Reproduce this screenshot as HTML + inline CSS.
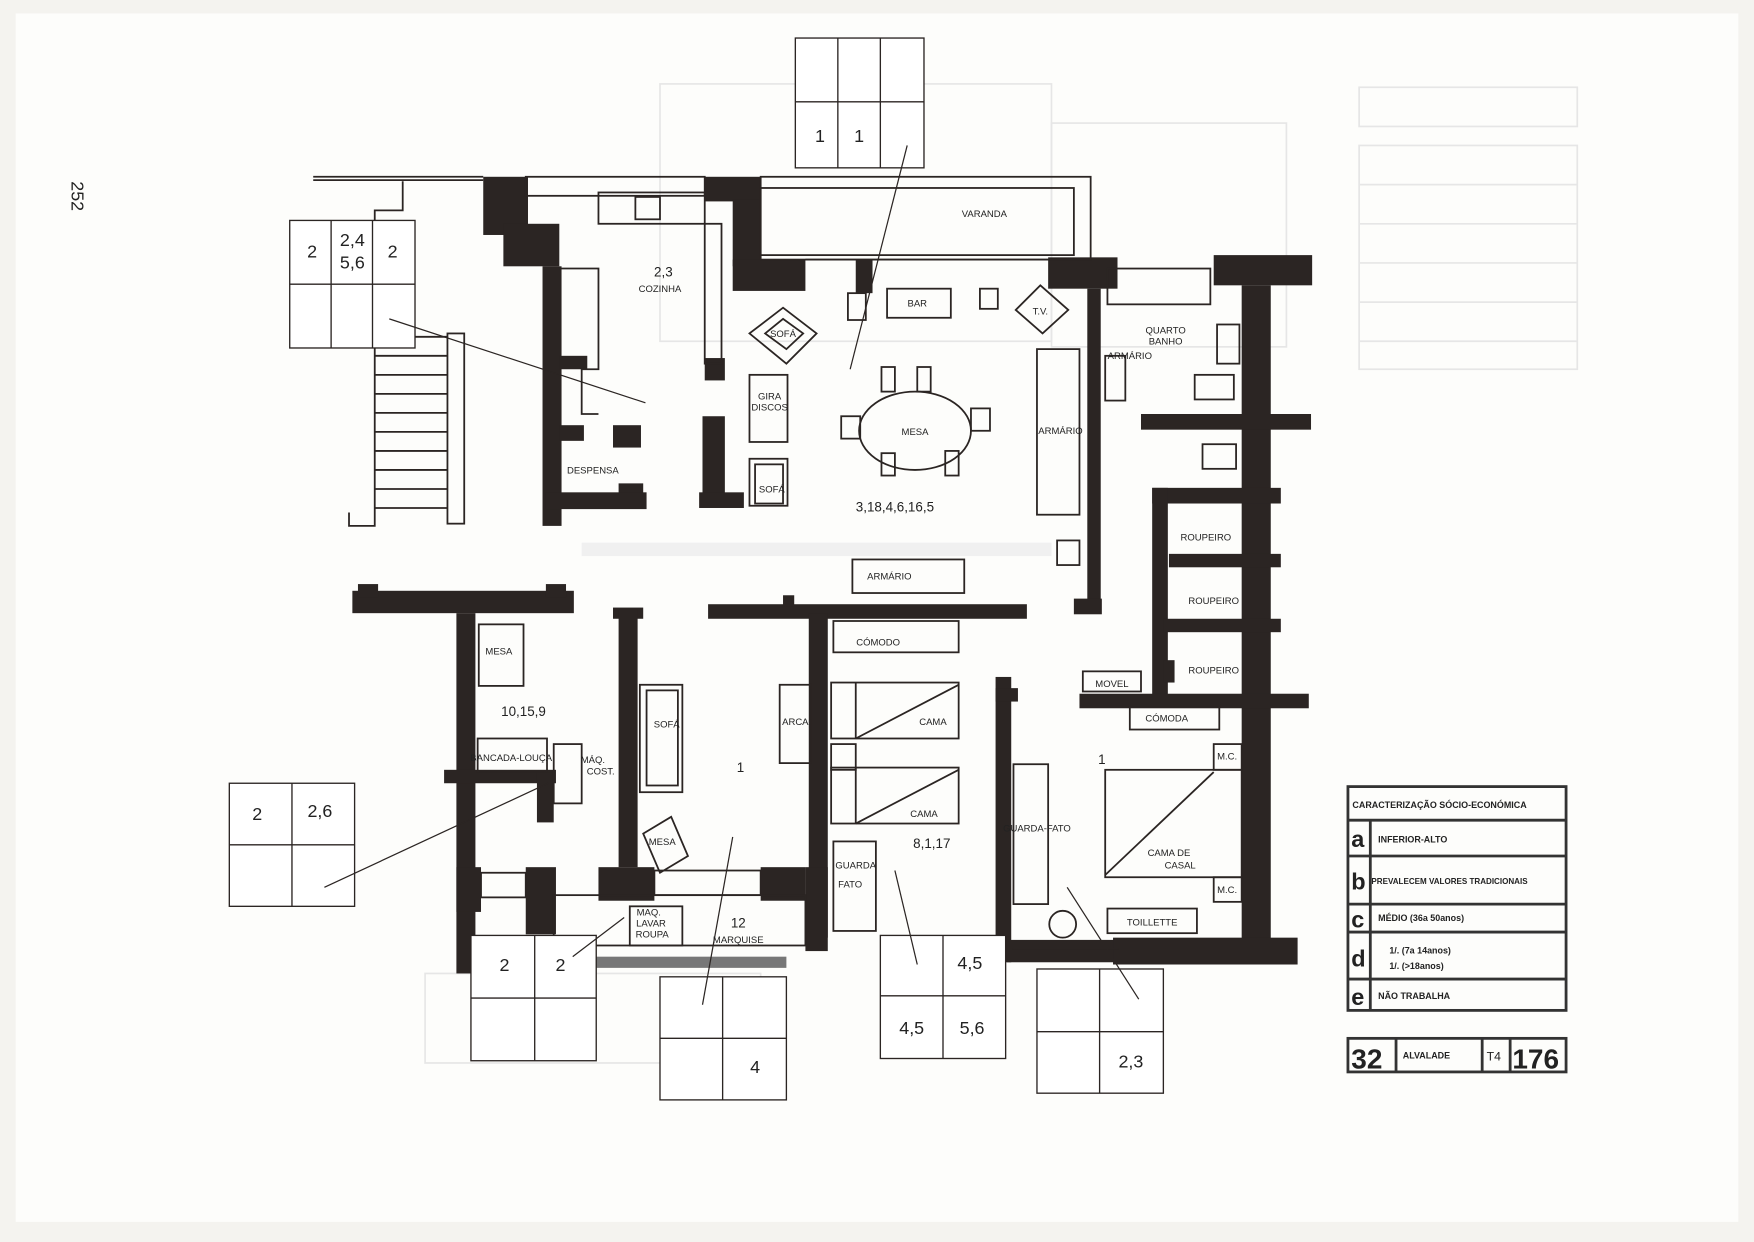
<!DOCTYPE html>
<html><head><meta charset="utf-8"><style>
html,body{margin:0;padding:0;background:#fff}
svg{display:block}
text{font-family:"Liberation Sans",sans-serif;fill:#222}
.s{font-size:8.5px}
.n{font-size:16px}
</style></head><body>
<svg width="1754" height="1242" viewBox="0 0 1568 1110" preserveAspectRatio="none" xmlns="http://www.w3.org/2000/svg">
<rect x="0" y="0" width="1568" height="1110" fill="#f4f3ef"/>
<rect x="14" y="12" width="1540" height="1080" fill="#fdfdfb"/>
<!-- ghost background -->
<g fill="none" stroke="#e6e6e6" stroke-width="1.5">
<rect x="590" y="75" width="350" height="230"/><rect x="940" y="110" width="210" height="200"/>
<rect x="1215" y="78" width="195" height="35"/><rect x="1215" y="130" width="195" height="200"/>
<line x1="1215" y1="165" x2="1410" y2="165"/><line x1="1215" y1="200" x2="1410" y2="200"/><line x1="1215" y1="235" x2="1410" y2="235"/><line x1="1215" y1="270" x2="1410" y2="270"/><line x1="1215" y1="305" x2="1410" y2="305"/>
<rect x="380" y="870" width="300" height="80"/>
</g>
<g fill="#f0f0f0"><rect x="520" y="485" width="420" height="12"/></g>
<text x="64" y="162" transform="rotate(90 64 162)" font-size="16" fill="#555">252</text>

<g fill="#2b2523">
<rect x="432" y="158" width="40" height="52"/><rect x="450" y="200" width="50" height="38"/>
<rect x="485" y="238" width="17" height="232"/>
<rect x="500" y="318" width="25" height="12"/><rect x="500" y="380" width="22" height="14"/><rect x="548" y="380" width="25" height="20"/><rect x="553" y="432" width="22" height="14"/>
<rect x="488" y="440" width="90" height="15"/>
<rect x="630" y="158" width="50" height="22"/><rect x="655" y="178" width="25" height="60"/><rect x="655" y="232" width="65" height="28"/><rect x="765" y="232" width="15" height="30"/>
<rect x="630" y="320" width="18" height="20"/>
<rect x="628" y="372" width="20" height="80"/><rect x="625" y="440" width="40" height="14"/>
<rect x="937" y="230" width="62" height="28"/><rect x="1085" y="228" width="88" height="27"/>
<rect x="1110" y="255" width="26" height="597"/>
<rect x="972" y="258" width="12" height="290"/><rect x="960" y="535" width="25" height="14"/>
<rect x="1020" y="370" width="152" height="14"/><rect x="1030" y="436" width="115" height="14"/><rect x="1030" y="436" width="14" height="185"/>
<rect x="1045" y="495" width="100" height="12"/><rect x="1040" y="553" width="105" height="12"/><rect x="1040" y="590" width="10" height="20"/>
<rect x="965" y="620" width="205" height="13"/>
<rect x="315" y="528" width="198" height="20"/><rect x="320" y="522" width="18" height="12"/><rect x="488" y="522" width="18" height="12"/>
<rect x="548" y="543" width="27" height="10"/><rect x="633" y="540" width="285" height="13"/><rect x="700" y="532" width="10" height="10"/>
<rect x="408" y="548" width="17" height="322"/><rect x="397" y="688" width="100" height="12"/><rect x="480" y="690" width="15" height="45"/>
<rect x="553" y="545" width="17" height="230"/>
<rect x="723" y="548" width="17" height="290"/>
<rect x="890" y="605" width="14" height="255"/><rect x="890" y="615" width="20" height="12"/>
<rect x="408" y="775" width="22" height="40"/><rect x="470" y="775" width="27" height="60"/>
<rect x="535" y="775" width="50" height="30"/><rect x="680" y="775" width="40" height="30"/>
<rect x="720" y="775" width="20" height="75"/>
<rect x="900" y="840" width="100" height="20"/><rect x="995" y="838" width="165" height="24"/>
</g>
<g fill="none" stroke="#2b2523" stroke-width="1.6">
<polyline points="280,158 432,158"/><polyline points="280,161 432,161"/>
<polyline points="360,162 360,188 335,188 335,470 312,470 312,458"/>
<rect x="470" y="158" width="160" height="17"/>
<rect x="535" y="172" width="95" height="28"/><rect x="568" y="176" width="22" height="20"/>
<rect x="630" y="200" width="15" height="125"/>
<rect x="680" y="158" width="295" height="74"/><rect x="680" y="168" width="280" height="60"/>
<line x1="720" y1="232" x2="937" y2="232"/>
<rect x="400" y="298" width="15" height="170"/>
<line x1="335" y1="301" x2="400" y2="301"/><line x1="335" y1="318" x2="400" y2="318"/><line x1="335" y1="335" x2="400" y2="335"/><line x1="335" y1="352" x2="400" y2="352"/><line x1="335" y1="369" x2="400" y2="369"/><line x1="335" y1="386" x2="400" y2="386"/><line x1="335" y1="403" x2="400" y2="403"/><line x1="335" y1="420" x2="400" y2="420"/><line x1="335" y1="437" x2="400" y2="437"/><line x1="335" y1="454" x2="400" y2="454"/>
<polyline points="500,240 535,240 535,330 520,330 520,370 535,370"/>
<rect x="793" y="258" width="57" height="26"/><rect x="758" y="262" width="16" height="24"/><rect x="876" y="258" width="16" height="18"/>
<polygon points="930,255 955,277 932,298 908,277"/>
<polygon points="700,275 730,298 703,325 670,298"/><polygon points="700,285 718,298 703,312 684,298"/>
<rect x="670" y="335" width="34" height="60"/><rect x="670" y="410" width="34" height="42"/><rect x="675" y="415" width="25" height="35"/>
<ellipse cx="818" cy="385" rx="50" ry="35"/>
<rect x="788" y="328" width="12" height="22"/><rect x="820" y="328" width="12" height="22"/><rect x="788" y="405" width="12" height="20"/><rect x="845" y="403" width="12" height="22"/><rect x="752" y="372" width="17" height="20"/><rect x="868" y="365" width="17" height="20"/>
<rect x="927" y="312" width="38" height="148"/><rect x="945" y="483" width="20" height="22"/>
<rect x="762" y="500" width="100" height="30"/>
<rect x="990" y="240" width="92" height="32"/><rect x="988" y="318" width="18" height="40"/><rect x="1088" y="290" width="20" height="35"/><rect x="1068" y="335" width="35" height="22"/><rect x="1075" y="397" width="30" height="22"/>
<rect x="428" y="558" width="40" height="55"/><rect x="427" y="660" width="62" height="30"/><rect x="495" y="665" width="25" height="53"/>
<rect x="572" y="612" width="38" height="96"/><rect x="578" y="617" width="28" height="85"/>
<rect x="697" y="612" width="28" height="70"/>
<polygon points="575,745 600,730 615,765 590,780"/>
<rect x="745" y="555" width="112" height="28"/>
<rect x="743" y="610" width="114" height="50"/><line x1="765" y1="610" x2="765" y2="660"/><line x1="765" y1="660" x2="857" y2="612"/>
<rect x="743" y="665" width="22" height="23"/>
<rect x="743" y="686" width="114" height="50"/><line x1="765" y1="686" x2="765" y2="736"/><line x1="765" y1="736" x2="857" y2="688"/>
<rect x="745" y="752" width="38" height="80"/>
<rect x="968" y="600" width="52" height="18"/><rect x="1010" y="632" width="80" height="20"/>
<rect x="1085" y="665" width="25" height="23"/><rect x="1085" y="784" width="25" height="22"/>
<rect x="988" y="688" width="122" height="96"/><line x1="988" y1="782" x2="1085" y2="690"/>
<rect x="906" y="683" width="31" height="125"/>
<rect x="990" y="812" width="80" height="22"/><circle cx="950" cy="826" r="12"/>
<rect x="563" y="810" width="47" height="35"/>
<rect x="430" y="780" width="40" height="22"/><rect x="495" y="800" width="225" height="45"/><rect x="585" y="778" width="95" height="22"/>
<line x1="905" y1="848" x2="1000" y2="848"/>
</g>
<rect x="533" y="855" width="170" height="10" fill="#777"/>
<g stroke="#2b2523" stroke-width="1.2" fill="#fff">
<rect x="711" y="34" width="115" height="116"/><line x1="749" y1="34" x2="749" y2="150"/><line x1="787" y1="34" x2="787" y2="150"/><line x1="711" y1="91" x2="826" y2="91"/>
<rect x="259" y="197" width="112" height="114"/><line x1="296" y1="197" x2="296" y2="311"/><line x1="333" y1="197" x2="333" y2="311"/><line x1="259" y1="254" x2="371" y2="254"/>
<rect x="205" y="700" width="112" height="110"/><line x1="261" y1="700" x2="261" y2="810"/><line x1="205" y1="755" x2="317" y2="755"/>
<rect x="421" y="836" width="112" height="112"/><line x1="478" y1="836" x2="478" y2="948"/><line x1="421" y1="892" x2="533" y2="892"/>
<rect x="590" y="873" width="113" height="110"/><line x1="646" y1="873" x2="646" y2="983"/><line x1="590" y1="928" x2="703" y2="928"/>
<rect x="787" y="836" width="112" height="110"/><line x1="843" y1="836" x2="843" y2="946"/><line x1="787" y1="890" x2="899" y2="890"/>
<rect x="927" y="866" width="113" height="111"/><line x1="983" y1="866" x2="983" y2="977"/><line x1="927" y1="922" x2="1040" y2="922"/>
</g>
<g stroke="#2b2523" stroke-width="1.1">
<line x1="811" y1="130" x2="760" y2="330"/><line x1="348" y1="285" x2="577" y2="360"/><line x1="290" y1="793" x2="490" y2="700"/><line x1="512" y1="855" x2="558" y2="820"/><line x1="628" y1="898" x2="655" y2="748"/><line x1="820" y1="862" x2="800" y2="778"/><line x1="1018" y1="893" x2="954" y2="793"/>
</g>
<g class="n" text-anchor="middle">
<text x="733" y="127">1</text><text x="768" y="127">1</text>
<text x="279" y="230">2</text><text x="315" y="220">2,4</text><text x="315" y="240">5,6</text><text x="351" y="230">2</text>
<text x="230" y="733">2</text><text x="286" y="730">2,6</text>
<text x="451" y="868">2</text><text x="501" y="868">2</text>
<text x="675" y="959">4</text>
<text x="867" y="866">4,5</text><text x="815" y="924">4,5</text><text x="869" y="924">5,6</text>
<text x="1011" y="954">2,3</text>
</g>
<g font-size="12" text-anchor="middle">
<text x="593" y="247">2,3</text><text x="800" y="457">3,18,4,6,16,5</text><text x="468" y="640">10,15,9</text><text x="662" y="690">1</text><text x="833" y="758">8,1,17</text><text x="985" y="683">1</text><text x="660" y="829">12</text>
</g>
<g class="s" text-anchor="middle">
<text x="590" y="261">COZINHA</text><text x="880" y="194">VARANDA</text><text x="530" y="423">DESPENSA</text><text x="820" y="274">BAR</text><text x="930" y="281">T.V.</text><text x="700" y="301">SOFÁ</text>
<text x="688" y="357">GIRA</text><text x="688" y="367">DISCOS</text><text x="690" y="440">SOFÁ</text><text x="818" y="389">MESA</text>
<text x="948" y="388">ARMÁRIO</text><text x="1010" y="321">ARMÁRIO</text><text x="1042" y="298">QUARTO</text><text x="1042" y="308">BANHO</text>
<text x="795" y="518">ARMÁRIO</text><text x="1078" y="483">ROUPEIRO</text><text x="1085" y="540">ROUPEIRO</text><text x="1085" y="602">ROUPEIRO</text>
<text x="785" y="577">CÓMODO</text><text x="834" y="648">CAMA</text><text x="826" y="730">CAMA</text><text x="994" y="614">MOVEL</text><text x="1043" y="645">CÓMODA</text>
<text x="1097" y="679">M.C.</text><text x="1097" y="798">M.C.</text><text x="927" y="743">GUARDA-FATO</text><text x="1045" y="765">CAMA DE</text><text x="1055" y="776">CASAL</text>
<text x="1030" y="827">TOILLETTE</text><text x="446" y="585">MESA</text><text x="457" y="680">BANCADA-LOUÇA</text><text x="530" y="682">MÁQ.</text><text x="537" y="692">COST.</text>
<text x="596" y="650">SOFÁ</text><text x="711" y="648">ARCA</text><text x="592" y="755">MESA</text><text x="765" y="776">GUARDA</text><text x="760" y="793">FATO</text>
<text x="580" y="818">MAQ.</text><text x="582" y="828">LAVAR</text><text x="583" y="838">ROUPA</text><text x="660" y="843">MARQUISE</text>
</g>
<g fill="none" stroke="#333" stroke-width="2.5">
<rect x="1205" y="703" width="195" height="200"/>
<line x1="1205" y1="733" x2="1400" y2="733"/><line x1="1205" y1="765" x2="1400" y2="765"/><line x1="1205" y1="808" x2="1400" y2="808"/><line x1="1205" y1="833" x2="1400" y2="833"/><line x1="1205" y1="875" x2="1400" y2="875"/>
<line x1="1225" y1="733" x2="1225" y2="903"/>
<rect x="1205" y="928" width="195" height="30"/><line x1="1248" y1="928" x2="1248" y2="958"/><line x1="1325" y1="928" x2="1325" y2="958"/><line x1="1350" y1="928" x2="1350" y2="958"/>
</g>
<g font-size="8" font-weight="bold">
<text x="1209" y="722">CARACTERIZAÇÃO SÓCIO-ECONÓMICA</text>
<text x="1232" y="753">INFERIOR-ALTO</text><text x="1226" y="790" font-size="7.2">PREVALECEM VALORES TRADICIONAIS</text>
<text x="1232" y="823">MÉDIO (36a 50anos)</text><text x="1242" y="852">1/. (7a 14anos)</text><text x="1242" y="866">1/. (&gt;18anos)</text><text x="1232" y="893">NÃO TRABALHA</text>
<text x="1254" y="946">ALVALADE</text>
</g>
<g font-size="21" font-weight="bold" fill="#333">
<text x="1208" y="757">a</text><text x="1208" y="795">b</text><text x="1208" y="829">c</text><text x="1208" y="864">d</text><text x="1208" y="898">e</text>
</g>
<text x="1208" y="955" font-size="25" font-weight="bold">32</text>
<text x="1352" y="955" font-size="25" font-weight="bold">176</text>
<text x="1329" y="948" font-size="11">T4</text>
</svg>
</body></html>
